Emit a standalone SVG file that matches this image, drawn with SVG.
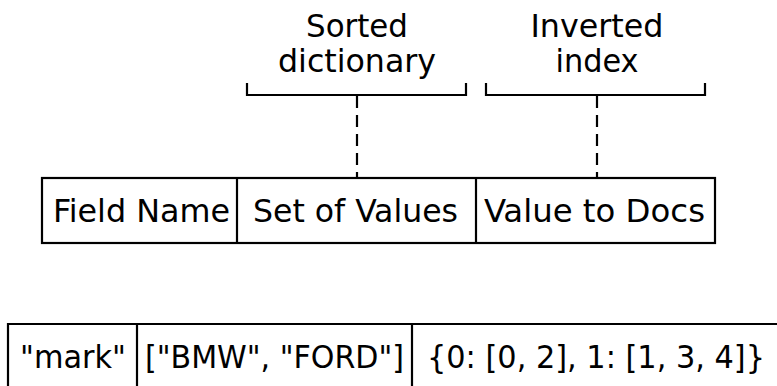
<svg xmlns="http://www.w3.org/2000/svg" width="777" height="386" viewBox="0 0 777 386">
<style>
.ln{fill:none;stroke:#000;stroke-width:2.2}
.ds{fill:none;stroke:#000;stroke-width:2.2;stroke-dasharray:12,7}
.t{font-family:"DejaVu Sans Condensed","DejaVu Sans",sans-serif;font-stretch:condensed;font-size:32px;fill:#000;text-anchor:middle}
</style>
<rect width="777" height="386" fill="#fff"/>
<g id="label-sorted">
<text class="t" x="357" y="37" textLength="102" lengthAdjust="spacingAndGlyphs">Sorted</text>
<text class="t" x="357" y="72" textLength="158" lengthAdjust="spacingAndGlyphs">dictionary</text>
<path class="ln" d="M247,83 V95 H466 V83"/>
</g>
<g id="label-inverted">
<text class="t" x="597" y="37" textLength="133" lengthAdjust="spacingAndGlyphs">Inverted</text>
<text class="t" x="597" y="72" textLength="83" lengthAdjust="spacingAndGlyphs">index</text>
<path class="ln" d="M486,83 V95 H705 V83"/>
</g>
<g id="connectors">
<line class="ds" x1="357" y1="96" x2="357" y2="178"/>
<line class="ds" x1="597" y1="96" x2="597" y2="178"/>
</g>
<g id="schema">
<rect class="ln" x="42" y="178" width="673" height="65"/>
<line class="ln" x1="237" y1="178" x2="237" y2="243"/>
<line class="ln" x1="476" y1="178" x2="476" y2="243"/>
<text class="t" x="141.5" y="222" textLength="177" lengthAdjust="spacingAndGlyphs">Field Name</text>
<text class="t" x="355.5" y="222" textLength="205" lengthAdjust="spacingAndGlyphs">Set of Values</text>
<text class="t" x="594.5" y="222" textLength="221" lengthAdjust="spacingAndGlyphs">Value to Docs</text>
</g>
<g id="example">
<path class="ln" d="M8,392 V324 H780"/>
<line class="ln" x1="137" y1="324" x2="137" y2="392"/>
<line class="ln" x1="412" y1="324" x2="412" y2="392"/>
<text class="t" x="73" y="368" textLength="106" lengthAdjust="spacingAndGlyphs">"mark"</text>
<text class="t" x="274.5" y="368" textLength="259" lengthAdjust="spacingAndGlyphs">["BMW", "FORD"]</text>
<text class="t" x="596" y="368" textLength="338" lengthAdjust="spacingAndGlyphs">{0: [0, 2], 1: [1, 3, 4]}</text>
</g>
</svg>
